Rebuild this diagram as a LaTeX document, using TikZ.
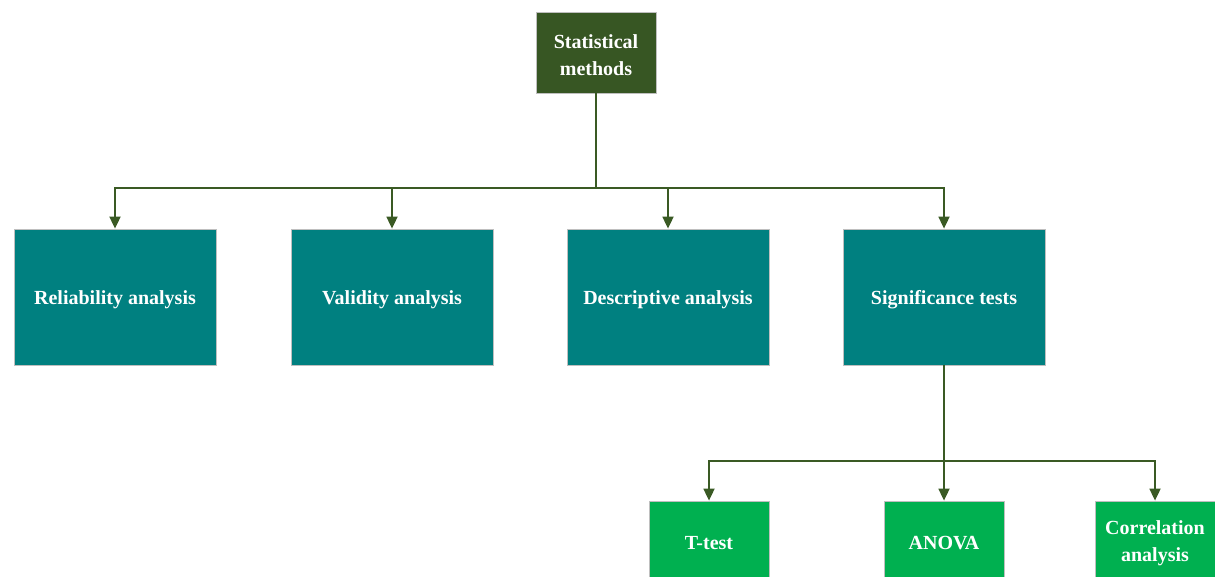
\documentclass[tikz,border=0pt]{standalone}
\usepackage{fontspec}
\setmainfont{Liberation Serif}
\usetikzlibrary{arrows.meta}
\definecolor{topgreen}{HTML}{375623}
\definecolor{teal2}{HTML}{008080}
\definecolor{leaf}{HTML}{00B050}
\definecolor{edge}{HTML}{BFBFBF}
\definecolor{wire}{HTML}{3A5A24}
\tikzset{
  txt/.style={text=white, font=\bfseries\fontsize{20}{27}\selectfont, align=center, inner sep=0pt, yshift=-2.5pt},
  box/.style={draw=edge, line width=0.8pt, inner sep=0pt},
  rootbox/.style={box, fill=topgreen, minimum width=120pt, minimum height=81pt},
  midbox/.style={box, fill=teal2, minimum width=202pt, minimum height=136pt},
  leafbox/.style={box, fill=leaf, minimum width=120pt, minimum height=82pt},
  arr/.style={draw=wire, line width=1.8pt, -{Triangle[width=11pt,length=12pt]}},
  wireline/.style={draw=wire, line width=1.8pt}
}
\begin{document}
\begin{tikzpicture}[x=1pt,y=-1pt]
\useasboundingbox (0,0) rectangle (1215,576);
\node[rootbox, label={[txt]center:Statistical\\methods}] (root) at (596,52.5) {};
\node[midbox, label={[txt]center:Reliability analysis}] (rel) at (115,297) {};
\node[midbox, label={[txt]center:Validity analysis}] (val) at (392,297) {};
\node[midbox, label={[txt]center:Descriptive analysis}] (des) at (668,297) {};
\node[midbox, label={[txt]center:Significance tests}] (sig) at (944,297) {};
\node[leafbox, label={[txt, yshift=1pt]center:T-test}] (tt) at (709,542) {};
\node[leafbox, label={[txt, yshift=1pt]center:ANOVA}] (an) at (944,542) {};
\node[leafbox, label={[txt, yshift=1pt]center:Correlation\\analysis}] (co) at (1155,542) {};
\coordinate (bus) at (596,188);
\coordinate (bus2) at (944,461);
\draw[wireline] (root.south) -- (bus);
\draw[arr] (bus) -| (rel.north);
\draw[arr] (bus) -| (val.north);
\draw[arr] (bus) -| (des.north);
\draw[arr] (bus) -| (sig.north);
\draw[wireline] (sig.south) -- (bus2);
\draw[arr] (bus2) -| (tt.north);
\draw[arr] (bus2) -- (an.north);
\draw[arr] (bus2) -| (co.north);
\end{tikzpicture}
\end{document}
